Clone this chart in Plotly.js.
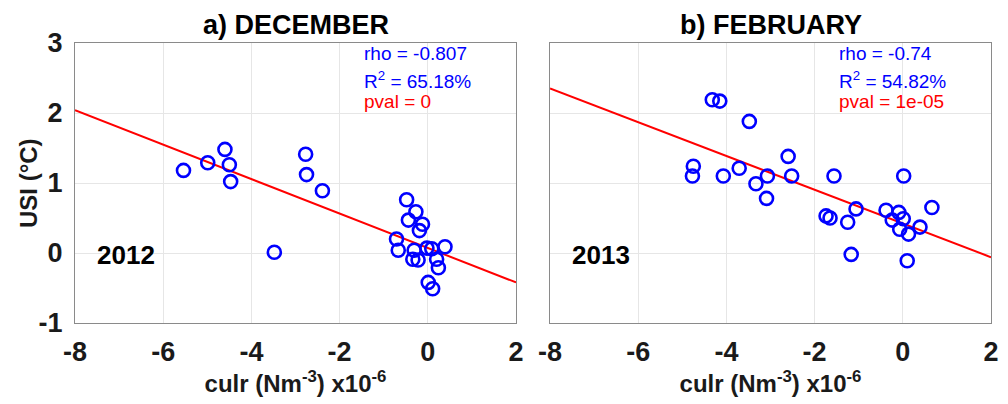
<!DOCTYPE html>
<html>
<head>
<meta charset="utf-8">
<script src="https://cdn.plot.ly/plotly-3.0.1.min.js"></script>
<style>html,body{margin:0;padding:0;background:#fff;}#chart{width:1008px;height:404px;}</style>
</head>
<body>
<div id="chart"></div>
<script>
// December 2012
const decX = [-5.54, -4.99, -4.60, -4.50, -4.47, -2.77, -2.75, -2.39, -3.48, -0.48, -0.27, -0.44, -0.12, -0.19, -0.71, -0.67, -0.31, -0.34, -0.22, -0.02, 0.09, 0.39, 0.20, 0.24, 0.01, 0.11];
const decY = [1.18, 1.29, 1.48, 1.26, 1.02, 1.41, 1.12, 0.89, 0.01, 0.76, 0.59, 0.47, 0.41, 0.32, 0.20, 0.04, 0.04, -0.09, -0.10, 0.07, 0.06, 0.09, -0.09, -0.21, -0.42, -0.51];
const decFitX = [-8, 2];
const decFitY = [2.04, -0.42];
// February 2013
const febX = [-4.32, -4.15, -3.48, -4.75, -4.77, -4.07, -3.71, -3.33, -3.07, -3.09, -2.60, -2.52, -1.56, -1.74, -1.65, -1.25, -1.06, -1.17, -0.38, -0.09, -0.24, 0.01, -0.07, 0.13, 0.39, 0.66, 0.02, 0.10];
const febY = [2.19, 2.17, 1.88, 1.24, 1.10, 1.10, 1.21, 0.99, 1.10, 0.78, 1.38, 1.10, 1.10, 0.53, 0.50, 0.44, 0.63, -0.02, 0.61, 0.58, 0.47, 0.49, 0.34, 0.27, 0.37, 0.65, 1.10, -0.11];
const febFitX = [-8, 2];
const febFitY = [2.35, -0.06];

const xTicks = [-8, -6, -4, -2, 0, 2];
const yTicks = [-1, 0, 1, 2, 3];
const panelTitles = ["a) DECEMBER", "b) FEBRUARY"];
const yearLabels = ["2012", "2013"];
const decStats = ["rho = -0.807", "R<sup>2</sup> = 65.18%", "pval = 0"];
const febStats = ["rho = -0.74", "R<sup>2</sup> = 54.82%", "pval = 1e-05"];

const FONT = "Liberation Sans, Arial, sans-serif";
const BLUE = "#0000ff", RED = "#ff0000";

function scatter(x, y, xa, ya) {
  return {x: x, y: y, xaxis: xa, yaxis: ya, type: "scatter", mode: "markers",
    marker: {symbol: "circle-open", size: 13, color: BLUE, line: {color: BLUE, width: 2.6}},
    showlegend: false, hoverinfo: "skip"};
}
function fit(x, y, xa, ya) {
  return {x: x, y: y, xaxis: xa, yaxis: ya, type: "scatter", mode: "lines",
    line: {color: RED, width: 2}, showlegend: false, hoverinfo: "skip"};
}

const data = [
  fit(decFitX, decFitY, "x", "y"),
  scatter(decX, decY, "x", "y"),
  fit(febFitX, febFitY, "x2", "y2"),
  scatter(febX, febY, "x2", "y2")
];

const TICKFONT = {family: FONT, size: 27, color: "#1a1a1a", weight: "bold"};

function xaxis(domain, anchor) {
  return {domain: domain, anchor: anchor, range: [-8, 2], tickmode: "array", tickvals: xTicks,
    ticktext: xTicks.map(String), showgrid: true, gridcolor: "#e6e6e6", gridwidth: 1,
    zeroline: false, showline: true, linecolor: "#8a8a8a", linewidth: 1, mirror: true,
    ticks: "outside", ticklen: 5, tickcolor: "rgba(0,0,0,0)",
    tickfont: TICKFONT,
    title: {text: "<b>culr (Nm<sup>-3</sup>) x10<sup>-6</sup></b>", standoff: 6,
      font: {family: FONT, size: 24, color: "#1a1a1a"}}};
}
function yaxis(anchor, showLabels) {
  return {domain: [0, 1], anchor: anchor, range: [-1, 3], tickmode: "array", tickvals: yTicks,
    ticktext: yTicks.map(String), showticklabels: showLabels, showgrid: true,
    gridcolor: "#e6e6e6", gridwidth: 1, zeroline: false, showline: true,
    linecolor: "#8a8a8a", linewidth: 1, mirror: true, ticks: "outside", ticklen: 6,
    tickcolor: "rgba(0,0,0,0)",
    tickfont: TICKFONT};
}

const annotations = [];
function addPanel(xref, yref, title, year, stats) {
  annotations.push({xref: xref + " domain", yref: yref + " domain", x: 0.5, y: 1.066,
    xanchor: "center", yanchor: "middle", showarrow: false,
    text: "<b>" + title + "</b>", font: {family: FONT, size: 27, color: "#000"}});
  annotations.push({xref: xref + " domain", yref: yref + " domain", x: 0.116, y: 0.243,
    xanchor: "center", yanchor: "middle", showarrow: false,
    text: "<b>" + year + "</b>", font: {family: FONT, size: 26, color: "#000"}});
  const ys = [0.962, 0.868, 0.79];
  const cols = [BLUE, BLUE, RED];
  stats.forEach((s, i) => annotations.push({xref: xref + " domain", yref: yref + " domain",
    x: 0.65, y: ys[i], xanchor: "left", yanchor: "middle", showarrow: false,
    text: s, font: {family: FONT, size: 19, color: cols[i]}}));
}
addPanel("x", "y", panelTitles[0], yearLabels[0], decStats);
addPanel("x2", "y2", panelTitles[1], yearLabels[1], febStats);
annotations.push({xref: "paper", yref: "y domain", x: 28 / 1008, y: 0.5, xanchor: "center",
  yanchor: "middle", textangle: -90, showarrow: false, text: "<b>USI (°C)</b>",
  font: {family: FONT, size: 24, color: "#1a1a1a"}});

const layout = {
  width: 1008, height: 404,
  margin: {l: 0, r: 0, t: 43, b: 81, pad: 0},
  paper_bgcolor: "#ffffff", plot_bgcolor: "#ffffff",
  font: {family: FONT, size: 21, color: "#1a1a1a"},
  xaxis: xaxis([75 / 1008, 516 / 1008], "y"),
  yaxis: yaxis("x", true),
  xaxis2: xaxis([550 / 1008, 991 / 1008], "y2"),
  yaxis2: yaxis("x2", false),
  annotations: annotations,
  showlegend: false
};

Plotly.newPlot("chart", data, layout, {displayModeBar: false, staticPlot: true});
</script>
</body>
</html>
